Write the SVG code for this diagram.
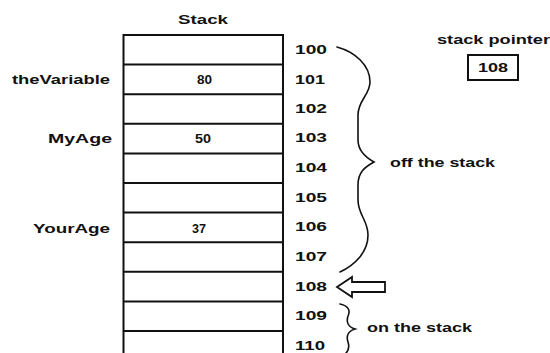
<svg xmlns="http://www.w3.org/2000/svg" width="550" height="353" viewBox="0 0 550 353">
  <style>
    .t { font-family: "Liberation Sans", Arial, sans-serif; font-size: 12px; font-weight: bold; fill: #111; }
    .mid { text-anchor: middle; }
    .end { text-anchor: end; }
    .cell { stroke: #111; stroke-width: 2; fill: none; }
    .brace { stroke: #111; stroke-width: 1.6; fill: none; stroke-linecap: round; }
  </style>
  <rect width="550" height="353" fill="#ffffff"/>

  <!-- stack column -->
  <g id="stack">
    <text class="t mid" x="203" y="24" textLength="50" lengthAdjust="spacingAndGlyphs">Stack</text>
    <path class="cell" d="M123.5,360 V35 H283 V360"/>
    <g class="cell">
      <line x1="123" y1="64.6" x2="283" y2="64.6"/>
      <line x1="123" y1="94.2" x2="283" y2="94.2"/>
      <line x1="123" y1="123.8" x2="283" y2="123.8"/>
      <line x1="123" y1="153.4" x2="283" y2="153.4"/>
      <line x1="123" y1="183" x2="283" y2="183"/>
      <line x1="123" y1="212.6" x2="283" y2="212.6"/>
      <line x1="123" y1="242.2" x2="283" y2="242.2"/>
      <line x1="123" y1="271.8" x2="283" y2="271.8"/>
      <line x1="123" y1="301.4" x2="283" y2="301.4"/>
      <line x1="123" y1="331" x2="283" y2="331"/>
    </g>
  </g>

  <!-- variables and their values -->
  <g id="theVariable">
    <text class="t" x="12" y="84" textLength="98" lengthAdjust="spacingAndGlyphs">theVariable</text>
    <text class="t" x="197" y="84" textLength="15" lengthAdjust="spacingAndGlyphs">80</text>
  </g>
  <g id="MyAge">
    <text class="t" x="48" y="143" textLength="64" lengthAdjust="spacingAndGlyphs">MyAge</text>
    <text class="t" x="195" y="143" textLength="16" lengthAdjust="spacingAndGlyphs">50</text>
  </g>
  <g id="YourAge">
    <text class="t" x="33" y="233" textLength="77" lengthAdjust="spacingAndGlyphs">YourAge</text>
    <text class="t" x="192" y="233" textLength="14" lengthAdjust="spacingAndGlyphs">37</text>
  </g>

  <!-- addresses -->
  <g id="addresses" class="t">
    <text x="295" y="54" textLength="32" lengthAdjust="spacingAndGlyphs">100</text>
    <text x="295" y="84" textLength="30" lengthAdjust="spacingAndGlyphs">101</text>
    <text x="295" y="113" textLength="32" lengthAdjust="spacingAndGlyphs">102</text>
    <text x="295" y="142" textLength="32" lengthAdjust="spacingAndGlyphs">103</text>
    <text x="295" y="172" textLength="32" lengthAdjust="spacingAndGlyphs">104</text>
    <text x="295" y="202" textLength="32" lengthAdjust="spacingAndGlyphs">105</text>
    <text x="295" y="231" textLength="32" lengthAdjust="spacingAndGlyphs">106</text>
    <text x="295" y="261" textLength="32" lengthAdjust="spacingAndGlyphs">107</text>
    <text x="295" y="291" textLength="32" lengthAdjust="spacingAndGlyphs">108</text>
    <text x="295" y="320" textLength="32" lengthAdjust="spacingAndGlyphs">109</text>
    <text x="295" y="350" textLength="30" lengthAdjust="spacingAndGlyphs">110</text>
  </g>

  <!-- stack pointer -->
  <g id="stackPointer">
    <text class="t" x="437" y="44" textLength="113" lengthAdjust="spacingAndGlyphs">stack pointer</text>
    <rect x="468" y="55" width="50" height="25" fill="none" stroke="#111" stroke-width="2"/>
    <text class="t" x="478" y="72" textLength="30" lengthAdjust="spacingAndGlyphs">108</text>
  </g>

  <!-- braces and pointer arrow -->
  <g id="connectors">
    <path class="brace" d="M337,47 C355,52 370,65 370,82 C370,95 358,100 358,115 L358,140 C358,150 365,157 374,162 C365,167 358,172 358,185 L358,200 C358,215 368,220 368,235 C368,252 355,265 340,272"/>
    <path class="brace" d="M340,304 C350,306 350,312 348,316 C346,322 348,327 355,329 C348,331 346,336 348,342 C350,348 348,352 344,355"/>
    <polygon points="337,287 352,277 352,282 385,282 385,292 352,292 352,297" fill="#fff" stroke="#111" stroke-width="1.8" stroke-linejoin="miter"/>
  </g>

  <!-- brace labels -->
  <g id="offTheStack">
    <text class="t" x="390" y="167" textLength="105" lengthAdjust="spacingAndGlyphs">off the stack</text>
  </g>
  <g id="onTheStack">
    <text class="t" x="367" y="332" textLength="105" lengthAdjust="spacingAndGlyphs">on the stack</text>
  </g>
</svg>
